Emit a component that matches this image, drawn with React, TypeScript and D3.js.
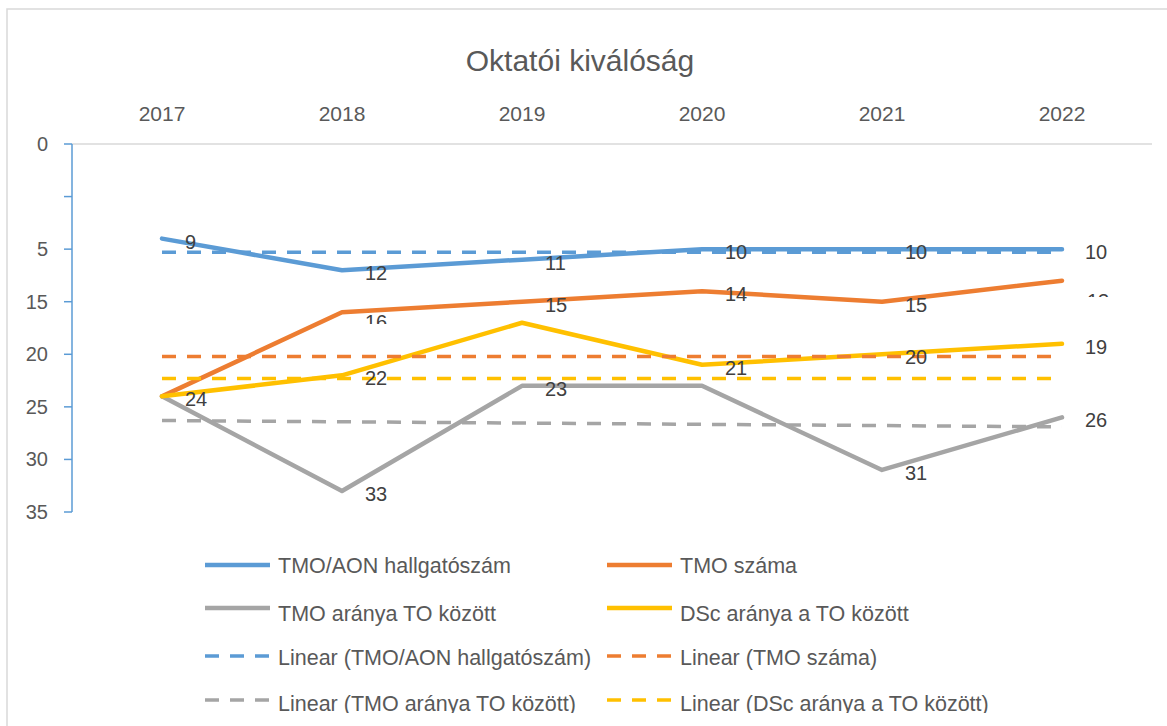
import React from 'react';
import * as d3 from 'd3';

// Data
const years = ['2017', '2018', '2019', '2020', '2021', '2022'];
const aonValues = [9, 12, 11, 10, 10, 10];
const tmoValues = [24, 16, 15, 14, 15, 13];
const aranyValues = [24, 33, 23, 23, 31, 26];
const dscValues = [24, 22, 17, 21, 20, 19];

// Trendline end values (first / last category)
const aonTrend = [10.3, 10.3];
const tmoTrend = [20.2, 20.2];
const aranyTrend = [26.3, 26.9];
const dscTrend = [22.3, 22.3];

// which data labels are fully visible
const aonShow = [true, true, true, true, true, true];
const tmoShow = [false, false, true, true, true, false];
const aranyShow = [false, true, true, false, true, true];
const dscShow = [true, true, false, true, true, true];

const yTicks = [0, 5, 10, 15, 20, 25, 30, 35];
const yTickLabels = ['0', '', '5', '15', '20', '25', '30', '35'];

const FONT = '"Liberation Sans", Arial, sans-serif';

const series = [
  { name: 'TMO/AON hallgatószám', values: aonValues, trend: aonTrend, show: aonShow, color: '#5b9bd5' },
  { name: 'TMO száma', values: tmoValues, trend: tmoTrend, show: tmoShow, color: '#ed7d31' },
  { name: 'TMO aránya TO között', values: aranyValues, trend: aranyTrend, show: aranyShow, color: '#a5a5a5' },
  { name: 'DSc aránya a TO között', values: dscValues, trend: dscTrend, show: dscShow, color: '#ffc000' },
];

export default function App() {
  const x = d3.scaleBand<string>().domain(years).range([72, 1152]);
  const cx = (y: string) => (x(y) as number) + x.bandwidth() / 2;
  const y = d3.scaleLinear().domain([0, 35]).range([144, 512]);

  const line = d3.line<number>()
    .x((_, i) => cx(years[i]))
    .y(d => y(d));

  const trendLine = d3.line<number>()
    .x((_, i) => cx(i === 0 ? years[0] : years[years.length - 1]))
    .y(d => y(d));

  // legend layout: 2 columns, 4 rows
  const legendItems = [
    ...series.map(s => ({ label: s.name, color: s.color, dashed: false })),
    ...series.map(s => ({ label: `Linear (${s.name})`, color: s.color, dashed: true })),
  ];
  const colX = [205, 607];
  const rowLineY = [565, 608, 656, 700];
  const rowTextY = [566, 614, 658, 704];

  return (
    <div style={{ position: 'absolute', left: 0, top: 0, width: 1167, height: 726, background: '#fff' }}>
      <svg width={1167} height={726} style={{ display: 'block' }}>
        <defs>
          <clipPath id="chartClip">
            <rect x={0} y={0} width={1167} height={713} />
          </clipPath>
          <clipPath id="lbl13">
            <rect x={1000} y={250} width={160} height={47} />
          </clipPath>
          <clipPath id="lbl16">
            <rect x={300} y={250} width={160} height={74} />
          </clipPath>
        </defs>
        <rect x={7} y={9} width={1200} height={760} fill="#fff" stroke="#d9d9d9" strokeWidth={1.5} />

        <g clipPath="url(#chartClip)">
          {/* title */}
          <text x={580} y={60} textAnchor="middle" dominantBaseline="central"
            fontFamily={FONT} fontSize={30} fill="#595959">Oktatói kiválóság</text>

          {/* category axis at the top (reversed value axis) */}
          <line x1={72} x2={1152} y1={y(0)} y2={y(0)} stroke="#d9d9d9" strokeWidth={1.5} />
          {years.map(yr => (
            <text key={yr} x={cx(yr)} y={113} textAnchor="middle" dominantBaseline="central"
              fontFamily={FONT} fontSize={21} fill="#595959">{yr}</text>
          ))}

          {/* value axis */}
          <line x1={72} x2={72} y1={y(0)} y2={y(35)} stroke="#5b9bd5" strokeWidth={1.5} />
          {yTicks.map((t, i) => (
            <g key={t}>
              <line x1={64} x2={72} y1={y(t)} y2={y(t)} stroke="#5b9bd5" strokeWidth={1.5} />
              <text x={48} y={y(t)} textAnchor="end" dominantBaseline="central"
                fontFamily={FONT} fontSize={20} fill="#595959">{yTickLabels[i]}</text>
            </g>
          ))}

          {/* series lines */}
          {series.map(s => (
            <path key={s.name} d={line(s.values) || ''} fill="none" stroke={s.color}
              strokeWidth={4.5} strokeLinejoin="round" strokeLinecap="round" />
          ))}

          {/* linear trendlines */}
          {series.map(s => (
            <path key={'t' + s.name} d={trendLine(s.trend) || ''} fill="none" stroke={s.color}
              strokeWidth={3.5} strokeDasharray="14,11" />
          ))}

          {/* data labels */}
          {series.map(s => s.values.map((v, i) => s.show[i] ? (
            <text key={s.name + i} x={cx(years[i]) + 23} y={y(v) + 3} dominantBaseline="central"
              fontFamily={FONT} fontSize={20} fill="#404040">{v}</text>
          ) : null))}
          {/* partially hidden labels */}
          <text x={cx(years[5]) + 25} y={y(tmoValues[5]) + 20} dominantBaseline="central"
            fontFamily={FONT} fontSize={20} fill="#404040" clipPath="url(#lbl13)">{tmoValues[5]}</text>
          <text x={cx(years[1]) + 23} y={y(tmoValues[1]) + 10} dominantBaseline="central"
            fontFamily={FONT} fontSize={20} fill="#404040" clipPath="url(#lbl16)">{tmoValues[1]}</text>

          {/* legend */}
          {legendItems.map((it, i) => {
            const col = i % 2;
            const row = Math.floor(i / 2);
            const lx = colX[col];
            return (
              <g key={it.label}>
                <line x1={lx} x2={lx + 65} y1={rowLineY[row]} y2={rowLineY[row]} stroke={it.color}
                  strokeWidth={it.dashed ? 3.5 : 4.5} strokeDasharray={it.dashed ? '14,11' : undefined} />
                <text x={lx + 73} y={rowTextY[row]} dominantBaseline="central"
                  fontFamily={FONT} fontSize={21.5} fill="#595959">{it.label}</text>
              </g>
            );
          })}
        </g>
      </svg>
    </div>
  );
}
